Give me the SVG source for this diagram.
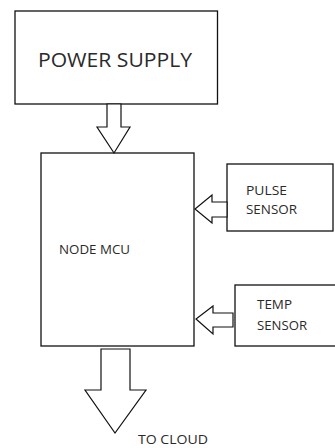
<svg xmlns="http://www.w3.org/2000/svg" width="335" height="448" viewBox="0 0 335 448">
<style>
.box{fill:#fff;stroke:#111;stroke-width:1.3}
.arr{fill:#fff;stroke:#111;stroke-width:1.2;stroke-linejoin:miter}
text{font-family:"Open Sans","Liberation Sans",sans-serif;fill:#2a2a2a}
.s{font-size:13px}
</style>
<rect width="335" height="448" fill="#fff"/>
<g id="power-supply">
<rect class="box" x="15" y="11" width="202.5" height="93"/>
<text x="38" y="67" font-size="20" textLength="154" lengthAdjust="spacingAndGlyphs">POWER SUPPLY</text>
</g>
<g id="node-mcu">
<rect class="box" x="41" y="153" width="153" height="193"/>
<text class="s" x="59" y="254" textLength="71" lengthAdjust="spacingAndGlyphs">NODE MCU</text>
</g>
<g id="pulse-sensor">
<rect class="box" x="227" y="164" width="106" height="67"/>
<text class="s" x="246" y="195" textLength="41" lengthAdjust="spacingAndGlyphs">PULSE</text>
<text class="s" x="246" y="214" textLength="51" lengthAdjust="spacingAndGlyphs">SENSOR</text>
</g>
<g id="temp-sensor">
<rect class="box" x="235" y="285" width="102" height="61"/>
<text class="s" x="257" y="309" textLength="35" lengthAdjust="spacingAndGlyphs">TEMP</text>
<text class="s" x="257" y="330" textLength="50" lengthAdjust="spacingAndGlyphs">SENSOR</text>
</g>
<g id="to-cloud">
<text x="138" y="444" font-size="12.5" textLength="70" lengthAdjust="spacingAndGlyphs">TO CLOUD</text>
</g>
<g id="connectors">
<path class="arr" d="M107,104 L121,104 L121,127 L130,127 L114,153 L97,127 L107,127 Z"/>
<path class="arr" d="M227,202 L212,202 L212,195 L195,209 L212,223 L212,217 L227,217 Z"/>
<path class="arr" d="M233,313 L213,313 L213,306 L196,319 L213,334 L213,327 L233,327 Z"/>
<path class="arr" d="M101,349 L130,349 L130,390 L146,390 L115,433 L85,390 L101,390 Z"/>
</g>
</svg>
